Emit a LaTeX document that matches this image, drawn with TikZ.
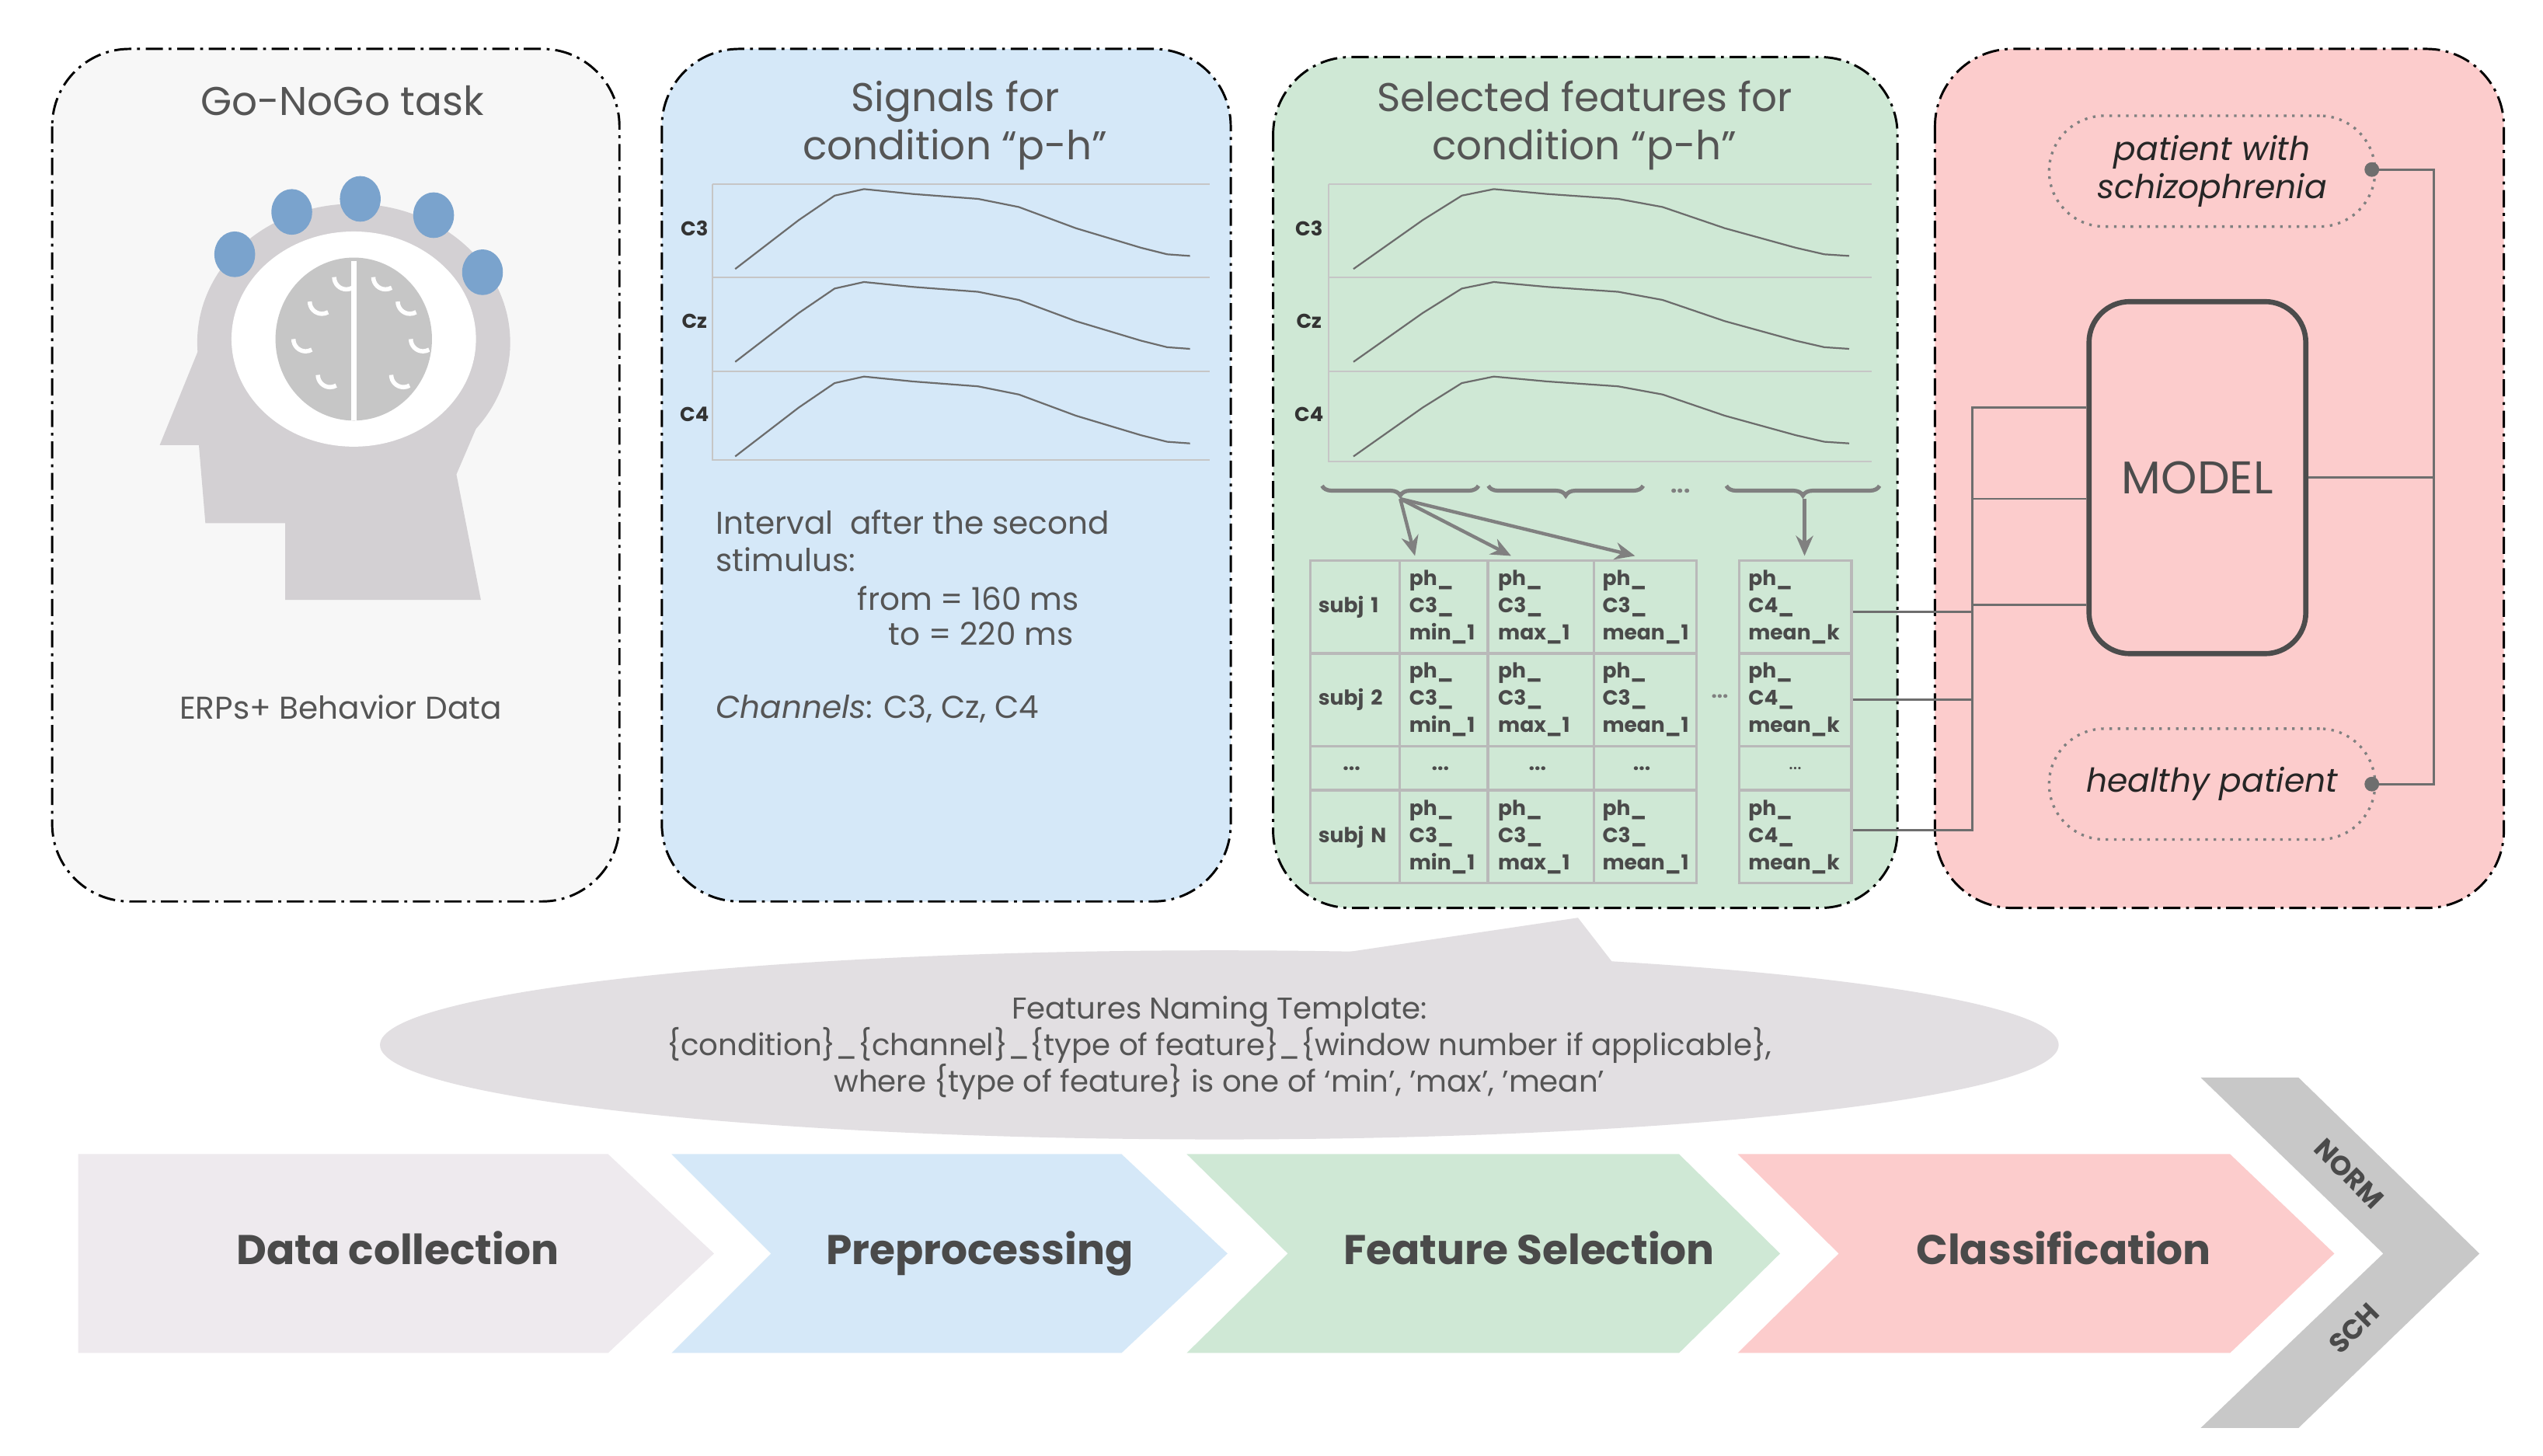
\documentclass[tikz,border=0pt]{standalone}
\usepackage{fontspec}
\setmainfont{Poppins}
\usetikzlibrary{decorations.pathreplacing,arrows.meta,shapes.geometric}
\definecolor{pone}{HTML}{F7F7F7}
\definecolor{pblue}{HTML}{D5E8F8}
\definecolor{pgreen}{HTML}{CFE8D5}
\definecolor{ppink}{HTML}{FCCCCC}
\definecolor{cone}{HTML}{EEEAEE}
\definecolor{bubble}{HTML}{E2DFE2}
\definecolor{bigarrow}{HTML}{C8C8C8}
\definecolor{headc}{HTML}{D3D0D3}
\definecolor{elec}{HTML}{7AA3CD}
\definecolor{txt}{HTML}{555555}
\definecolor{dtxt}{HTML}{4A4A4A}
\definecolor{wire}{HTML}{6E6E6E}
\begin{document}
\begin{tikzpicture}[x=0.02cm,y=-0.02cm,
  panel/.style={draw=black,line width=0.8pt,rounded corners=0.95cm,dash pattern=on 6pt off 2pt on 1pt off 2pt},
  title/.style={text=txt,font=\fontsize{14}{17}\selectfont,align=center},
  body/.style={text=txt,font=\fontsize{11}{13}\selectfont},
  axis/.style={draw=gray!45,line width=0.5pt},
  curve/.style={draw=gray!85!black,line width=0.6pt},
  chlab/.style={font=\rmfamily\bfseries\fontsize{7}{8}\selectfont,text=black!80},
  cell/.style={draw=gray!55,line width=0.9pt,inner sep=1pt,font=\bfseries\fontsize{7.2}{9.5}\selectfont,text=dtxt,align=left},
  brc/.style={draw=gray,line width=1.4pt,decorate,decoration={brace,mirror,amplitude=0.12cm}},
  arr/.style={draw=gray,line width=1.2pt,-{Stealth[length=7pt,width=6pt]}},
  wr/.style={draw=wire,line width=0.8pt},
  chev/.style={font=\bfseries\fontsize{14.5}{17}\selectfont,text=dtxt,text height=2ex,text depth=0.6ex},
  erp/.pic={\draw[curve] (14,52) -- (53,22) -- (75,7) -- (93,3) -- (123,6) -- (163,9) -- (188,14) -- (223,27) -- (263,39) -- (279,43) -- (293,44);}
]
\useasboundingbox (0,0) rectangle (1560,893);
\fill[white] (0,0) rectangle (1560,893);

% panels
\path[panel,fill=pone] (32,30) rectangle (380,553);
\path[panel,fill=pblue] (406,30) rectangle (755,553);
\path[panel,fill=pgreen] (781,35) rectangle (1164,557);
\path[panel,fill=ppink] (1187,30) rectangle (1536,557);

% panel 1
\node[title] (t1) at (210,62) {Go-NoGo task};
\fill[headc] (217,210) ellipse [x radius=1.92cm,y radius=1.70cm];
\fill[headc] (122,214) -- (98,273) -- (122,273) -- (126,321) -- (175,321) -- (175,368) -- (295,368) -- (280,291) -- (313,214) -- cycle;
\fill[white] (217,208) ellipse [x radius=1.5cm,y radius=1.32cm];
\fill[gray!45] (217,208) ellipse [x radius=0.96cm,y radius=1.0cm];
\draw[white,line width=2pt] (217,160) -- (217,258);
\foreach \a/\b in {190/185,244/185,195/230,240/230,205/170,229/170,180/208,252/208}{
  \draw[white,line width=1.5pt] (\a,\b) arc[start angle=180,end angle=300,radius=0.15cm];}
\foreach \ex/\ey in {144/156,179/130,221/122,266/132,296/167}{
  \fill[elec] (\ex,\ey) ellipse [x radius=0.25cm,y radius=0.28cm];}
\node[body] (erps) at (209,434) {ERPs+ Behavior Data};

% panel 2
\node[title] (t2) at (586,77) {Signals for\\condition “p-h”};
\draw[axis] (437,113) -- (742,113);
\draw[axis] (437,113) -- (437,282) -- (742,282);
\draw[axis] (437,170) -- (742,170);
\draw[axis] (437,228) -- (742,228);
\pic at (437,113) {erp};
\pic at (437,170) {erp};
\pic at (437,228) {erp};
\node[chlab] (l1) at (426,140) {C3};
\node[chlab] (l2) at (426,197) {Cz};
\node[chlab] (l3) at (426,254) {C4};
\node[body,anchor=west,align=left] (iv) at (433,332) {Interval\ \ after the second\\stimulus:};
\node[body] (fr) at (594,367) {from = 160 ms};
\node[body] (to) at (594,389) {\ \ \ to = 220 ms};
\node[body,anchor=west] (chn) at (433,435) {\textit{Channels}: C3, Cz, C4};

% panel 3
\node[title] (t3) at (972,77) {Selected features for\\condition “p-h”};
\draw[axis] (815,113) -- (1148,113);
\draw[axis] (815,113) -- (815,283) -- (1148,283);
\draw[axis] (815,170) -- (1148,170);
\draw[axis] (815,228) -- (1148,228);
\pic[xscale=1.09] at (815,113) {erp};
\pic[xscale=1.09] at (815,170) {erp};
\pic[xscale=1.09] at (815,228) {erp};
\node[chlab] (m1) at (803,140) {C3};
\node[chlab] (m2) at (803,197) {Cz};
\node[chlab] (m3) at (803,254) {C4};
\draw[brc] (811,298) -- (907,298);
\draw[brc] (913,298) -- (1008,298);
\draw[brc] (1059,298) -- (1153,298);
\node[text=gray,font=\bfseries\fontsize{8}{8}\selectfont] (bd) at (1031,301) {...};
\coordinate (b1) at (859,306);
\coordinate (b3) at (1107,306);

% table
\newcommand\tcell[7]{\node[cell,minimum width=#4cm,minimum height=#5cm,text width=#6cm,anchor=north west] (#1) at (#2,#3) {#7};}
\tcell{s1}{803}{343}{1.1}{1.14}{0.9}{subj 1}
\tcell{a1}{858}{343}{1.08}{1.14}{0.85}{ph\_\\C3\_\\min\_1}
\tcell{b1c}{912}{343}{1.3}{1.14}{1.05}{ph\_\\C3\_\\max\_1}
\tcell{c1}{977}{343}{1.26}{1.14}{1.05}{ph\_\\C3\_\\mean\_1}
\tcell{k1}{1066}{343}{1.38}{1.14}{1.15}{ph\_\\C4\_\\mean\_k}
\tcell{s2}{803}{400}{1.1}{1.14}{0.9}{subj 2}
\tcell{a2}{858}{400}{1.08}{1.14}{0.85}{ph\_\\C3\_\\min\_1}
\tcell{b2}{912}{400}{1.3}{1.14}{1.05}{ph\_\\C3\_\\max\_1}
\tcell{c2}{977}{400}{1.26}{1.14}{1.05}{ph\_\\C3\_\\mean\_1}
\tcell{k2}{1066}{400}{1.38}{1.14}{1.15}{ph\_\\C4\_\\mean\_k}
\tcell{s3}{803}{457}{1.1}{0.54}{0.3}{...}
\tcell{a3}{858}{457}{1.08}{0.54}{0.3}{...}
\tcell{b3c}{912}{457}{1.3}{0.54}{0.3}{...}
\tcell{c3}{977}{457}{1.26}{0.54}{0.3}{...}
\node[cell,minimum width=1.38cm,minimum height=0.54cm,anchor=north west,font=\fontsize{7}{8}\selectfont] (k3) at (1066,457) {...};
\tcell{s4}{803}{484}{1.1}{1.14}{0.9}{subj N}
\tcell{a4}{858}{484}{1.08}{1.14}{0.85}{ph\_\\C3\_\\min\_1}
\tcell{b4}{912}{484}{1.3}{1.14}{1.05}{ph\_\\C3\_\\max\_1}
\tcell{c4}{977}{484}{1.26}{1.14}{1.05}{ph\_\\C3\_\\mean\_1}
\tcell{k4}{1066}{484}{1.38}{1.14}{1.15}{ph\_\\C4\_\\mean\_k}
\node[text=gray,font=\bfseries\fontsize{7}{7}\selectfont] (td) at (1055,427) {...};
\draw[arr] (b1) -- (868,341);
\draw[arr] (b1) -- (927,341);
\draw[arr] (b1) -- (1003,341);
\draw[arr] (b3) -- (1107,341);

% panel 4
\node[draw=gray,dotted,line width=0.9pt,rounded corners=0.68cm,minimum width=4cm,minimum height=1.36cm,align=center,font=\itshape\fontsize{11.5}{13.5}\selectfont,text=black!85] (sch) at (1357,105) {patient with\\schizophrenia};
\node[draw=gray,dotted,line width=0.9pt,rounded corners=0.68cm,minimum width=4cm,minimum height=1.36cm,font=\itshape\fontsize{11.5}{13.5}\selectfont,text=black!85] (hp) at (1357,481) {healthy patient};
\node[draw=black!70,line width=1.8pt,rounded corners=0.5cm,minimum width=2.66cm,minimum height=4.32cm,font=\fontsize{16}{18}\selectfont,text=black!70] (model) at (1348,293) {MODEL};
\coordinate (busL) at (1210,0);
\coordinate (busR) at (1493,0);
\coordinate (dS) at (1455,104);
\coordinate (dH) at (1455,481);
\fill[wire] (dS) circle[radius=0.09cm];
\fill[wire] (dH) circle[radius=0.09cm];
\draw[wr] (dS) -- (busR |- dS) -- (busR |- dH) -- (dH);
\draw[wr] (model.east) -- (busR |- model.east);
\coordinate (m1w) at ([yshift=0.86cm]model.west);
\coordinate (m2w) at ([yshift=-0.26cm]model.west);
\coordinate (m3w) at ([yshift=-1.56cm]model.west);
\draw[wr] (m1w) -- (busL |- m1w) -- (1210,510);
\draw[wr] (m2w) -- (busL |- m2w);
\draw[wr] (m3w) -- (busL |- m3w);
\coordinate (k1e) at ([yshift=-0.06cm]k1.east);
\coordinate (k4e) at ([yshift=0.08cm]k4.east);
\draw[wr] (k1e) -- (busL |- k1e);
\draw[wr] (k2.east) -- (busL |- k2.east);
\draw[wr] (k4e) -- (busL |- k4e);

% bubble
\fill[bubble] (800,588) -- (968,563) -- (992,594) -- cycle;
\fill[bubble] (748,641) ellipse [x radius=10.3cm,y radius=1.16cm];
\node[body,align=center,font=\fontsize{10.5}{12.8}\selectfont] (tmpl) at (748,643) {Features Naming Template:\\\{condition\}\_\{channel\}\_\{type of feature\}\_\{window number if applicable\},\\where \{type of feature\} is one of ‘min’, ’max’, ’mean’};

% chevrons
\fill[cone] (48,708) -- (373,708) -- (438,769) -- (373,830) -- (48,830) -- cycle;
\fill[pblue] (412,708) -- (688,708) -- (753,769) -- (688,830) -- (412,830) -- (473,769) -- cycle;
\fill[pgreen] (728,708) -- (1030,708) -- (1092,769) -- (1030,830) -- (728,830) -- (790,769) -- cycle;
\fill[ppink] (1066,708) -- (1368,708) -- (1432,769) -- (1368,830) -- (1066,830) -- (1128,769) -- cycle;
\fill[bigarrow] (1350,661) -- (1410,661) -- (1521,769) -- (1410,876) -- (1350,876) -- (1462,769) -- cycle;
\node[chev] (c1t) at (244,769) {Data collection};
\node[chev] (c2t) at (601,769) {Preprocessing};
\node[chev] (c3t) at (938,769) {Feature Selection};
\node[chev] (c4t) at (1266,769) {Classification};
\node[font=\bfseries\fontsize{9.5}{10}\selectfont,text=dtxt,rotate=-45,inner sep=0pt] (norm) at (1441,720) {NORM};
\node[font=\bfseries\fontsize{9.5}{10}\selectfont,text=dtxt,rotate=45,inner sep=0pt] (schl) at (1444,815) {SCH};
\end{tikzpicture}
\end{document}
